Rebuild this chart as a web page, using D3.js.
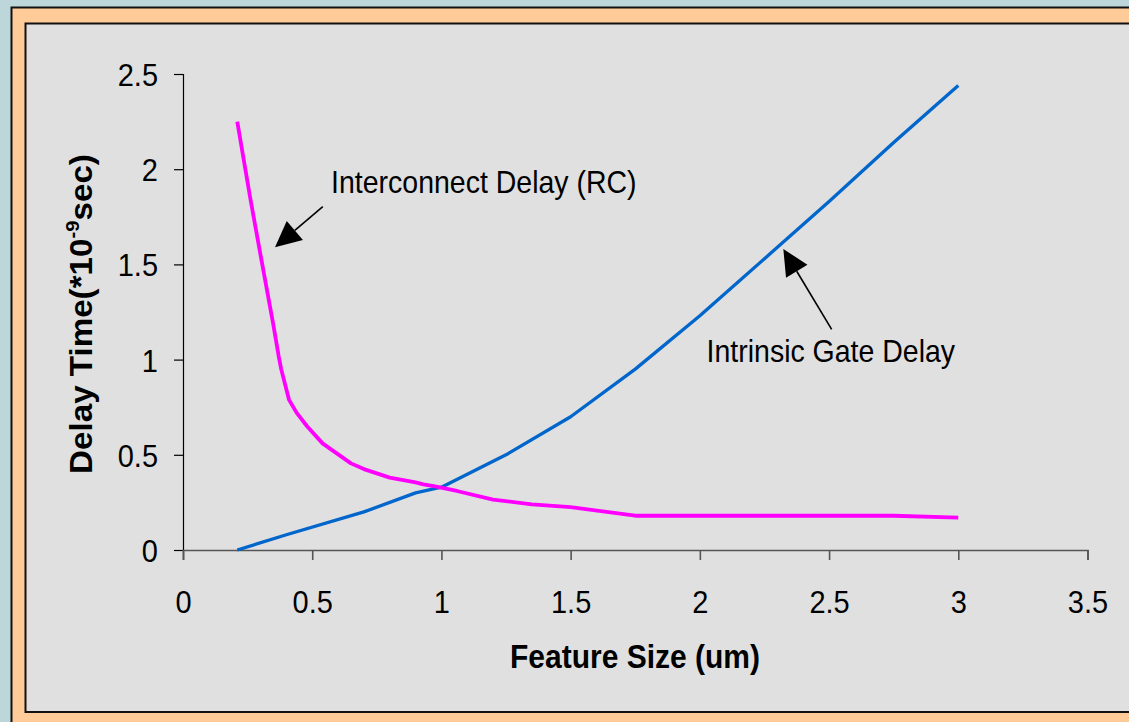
<!DOCTYPE html>
<html>
<head>
<meta charset="utf-8">
<script src="https://cdn.jsdelivr.net/npm/d3@7/dist/d3.min.js"></script>
<style>
  html, body { margin: 0; padding: 0; background: #bcd6d9; }
  svg { display: block; }
  text { font-family: "Liberation Sans", Arial, sans-serif; fill: #000; }
</style>
</head>
<body>
<svg id="chart" width="1129" height="722"></svg>
<script>
// Feature size (um) for each series and delay time (ns)
const interconnectSize  = [0.21, 0.26, 0.30, 0.35, 0.37, 0.38, 0.41, 0.44, 0.48, 0.54, 0.65, 0.70, 0.80, 0.90, 0.93, 0.97, 1.06, 1.20, 1.35, 1.50, 1.75, 2.00, 2.25, 2.50, 2.75, 3.00];
const interconnectDelay = [2.25, 1.85, 1.55, 1.18, 1.02, 0.95, 0.79, 0.72, 0.65, 0.56, 0.455, 0.425, 0.38, 0.355, 0.345, 0.335, 0.31, 0.265, 0.24, 0.225, 0.18, 0.18, 0.18, 0.18, 0.18, 0.17];

const gateSize  = [0.21, 0.40, 0.70, 0.90, 1.00, 1.25, 1.50, 1.75, 2.00, 2.25, 2.50, 2.75, 3.00];
const gateDelay = [0.00, 0.08, 0.20, 0.30, 0.33, 0.50, 0.70, 0.95, 1.23, 1.53, 1.83, 2.14, 2.44];

const xTicks = [0, 0.5, 1, 1.5, 2, 2.5, 3, 3.5];
const yTicks = [0, 0.5, 1, 1.5, 2, 2.5];

// Callout labels: text anchor (left, baseline) and arrow tail/tip, in data units
const calloutText  = ["Interconnect Delay (RC)", "Intrinsic Gate Delay"];
const calloutAt    = [[0.573, 1.873], [2.026, 0.989]];
const calloutTail  = [[0.541, 1.803], [2.510, 1.159]];
const calloutTip   = [[0.356, 1.590], [2.323, 1.581]];

const svg = d3.select("#chart");
const W = 1129, H = 722;
const STRETCH = 1.1; // text is drawn slightly tall and narrow

// Slide frame: peach border around the grey plot panel
svg.append("rect").attr("x", 0).attr("y", 0).attr("width", W).attr("height", H).attr("fill", "#bcd6d9");
svg.append("rect").attr("x", 11.5).attr("y", 7.5).attr("width", W + 40).attr("height", H + 40)
  .attr("fill", "#ffcc99").attr("stroke", "#111").attr("stroke-width", 2);
svg.append("rect").attr("x", 25.5).attr("y", 23.5).attr("width", W + 40).attr("height", 688.5)
  .attr("fill", "#e0e0e0").attr("stroke", "#111").attr("stroke-width", 2);

const x = d3.scaleLinear().domain([0, 3.5]).range([183, 1087.5]);
const y = d3.scaleLinear().domain([0, 2.5]).range([550, 74]);

const fmt = d3.format("");

// Y axis
const yAxis = svg.append("g").attr("transform", `translate(${x(0)},0)`)
  .call(d3.axisLeft(y).tickValues(yTicks).tickSize(9).tickFormat(fmt));
yAxis.select(".domain").attr("stroke", "#000").attr("stroke-width", 1.2);
yAxis.selectAll(".tick line").attr("stroke", "#000").attr("stroke-width", 1.2);
yAxis.selectAll(".tick text")
  .attr("font-size", 29).attr("font-family", "Liberation Sans, Arial, sans-serif").attr("fill", "#000")
  .attr("x", 0).attr("y", 0).attr("dy", null).attr("text-anchor", "end")
  .attr("transform", `translate(-25,${0.716 * 29 * STRETCH / 2}) scale(1,${STRETCH})`);

// X axis
const xAxis = svg.append("g").attr("transform", `translate(0,${y(0)})`)
  .call(d3.axisBottom(x).tickValues(xTicks).tickSize(10).tickFormat(fmt));
xAxis.select(".domain").attr("stroke", "#555").attr("stroke-width", 1.6);
xAxis.selectAll(".tick line").attr("stroke", "#555").attr("stroke-width", 1.6);
xAxis.selectAll(".tick text")
  .attr("font-size", 29).attr("font-family", "Liberation Sans, Arial, sans-serif").attr("fill", "#000")
  .attr("x", 0).attr("y", 0).attr("dy", null)
  .attr("transform", `translate(0,63) scale(1,${STRETCH})`);

// Axis titles
svg.append("text").attr("transform", `translate(635,668) scale(1,${STRETCH})`).attr("text-anchor", "middle")
  .attr("font-size", 30).attr("font-weight", "bold").text("Feature Size (um)");

const yTitle = svg.append("text").attr("transform", "translate(92,314) rotate(-90) scale(1.07,1)")
  .attr("text-anchor", "middle").attr("font-size", 31).attr("font-weight", "bold");
yTitle.append("tspan").text("Delay Time(*10");
yTitle.append("tspan").attr("font-size", 19).attr("dy", -13).text("-9");
yTitle.append("tspan").attr("dy", 13).text("sec)");

// Series lines
const line = d3.line().x(d => x(d[0])).y(d => y(d[1]));
const interconnect = interconnectSize.map((s, i) => [s, interconnectDelay[i]]);
const gate = gateSize.map((s, i) => [s, gateDelay[i]]);

svg.append("path").datum(gate).attr("d", line)
  .attr("fill", "none").attr("stroke", "#0066cc").attr("stroke-width", 3.3).attr("stroke-linejoin", "round");
svg.append("path").datum(interconnect).attr("d", line)
  .attr("fill", "none").attr("stroke", "#ff00ff").attr("stroke-width", 3.8).attr("stroke-linejoin", "round");

// Callouts with filled arrowheads
calloutText.forEach((t, i) => {
  svg.append("text")
    .attr("transform", `translate(${x(calloutAt[i][0])},${y(calloutAt[i][1])}) scale(1,${STRETCH})`)
    .attr("font-size", 28.5).text(t);
  const tx = x(calloutTail[i][0]), ty = y(calloutTail[i][1]);
  const px = x(calloutTip[i][0]), py = y(calloutTip[i][1]);
  const dx = px - tx, dy = py - ty, len = Math.hypot(dx, dy);
  const ux = dx / len, uy = dy / len;
  const headLen = 26, headHalf = 12.5;
  const bx = px - ux * headLen, by = py - uy * headLen;
  svg.append("line").attr("x1", tx).attr("y1", ty).attr("x2", bx).attr("y2", by)
    .attr("stroke", "#000").attr("stroke-width", 1.6);
  svg.append("polygon")
    .attr("points", [[px, py], [bx - uy * headHalf, by + ux * headHalf], [bx + uy * headHalf, by - ux * headHalf]]
      .map(p => p.join(",")).join(" "))
    .attr("fill", "#000");
});
</script>
</body>
</html>
